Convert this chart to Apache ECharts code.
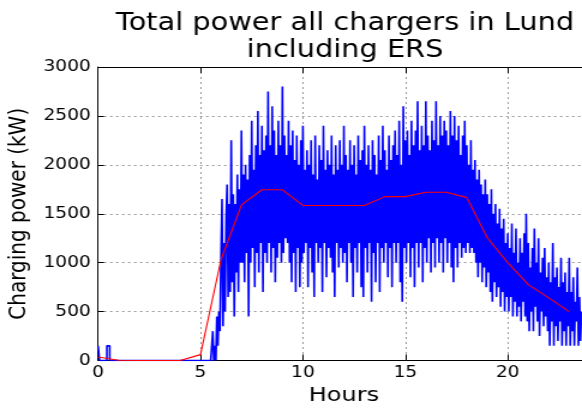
<!DOCTYPE html>
<html><head><meta charset="utf-8">
<script src="https://cdn.jsdelivr.net/npm/echarts@6/dist/echarts.min.js"></script>
<style>
html,body{margin:0;padding:0;overflow:hidden;background:#fff;width:582px;height:411px}
#chart{width:500px;height:411px;transform:scaleX(1.2);transform-origin:0 0;}
</style></head><body><div id="chart"></div>
<script>
// Title / axis texts
const titleText = 'Total power all chargers in Lund\nincluding ERS';
const xName = 'Hours';
const yName = 'Charging power (kW)';

// Early night part of the blue trace (hours, kW)
const earlyHours = [0, 0.07, 0.071, 0.43, 0.431, 0.57, 0.571, 5.5];
const earlyKW    = [150, 150, 0, 0, 150, 150, 0, 0];

// Main blue trace: samples every 3 minutes starting at 5.55 h
const sampleStart = 5.55;
const sampleStep = 0.05;
const blueKW = [
  0, 300, 0, 150, 0, 450, 150, 500, 300,
  1050, 1650, 350, 1200, 500, 1450, 1800, 650, 1600, 700, 2250, 800, 1700, 450, 1600, 900, 1900, 700, 1750, 1000,
  2350, 1000, 1900, 800, 2000, 1100, 1850, 450, 2100, 1000, 2450, 1150, 1950, 750, 2200, 1100, 2550, 900, 2100, 1200,
  2400, 700, 2150, 1100, 2300, 1000, 2750, 1200, 2200, 900, 2600, 1150, 2350, 800, 2100, 1050, 2450, 1200, 2200, 1000,
  2800, 1100, 2300, 1250, 2100, 1200, 2450, 1000, 2200, 800, 2350, 1100, 2050, 700, 2300, 1150, 2000, 750, 2250, 1000,
  2400, 1100, 1950, 1200, 2150, 750, 2000, 1150, 2250, 900, 1900, 650, 2300, 1200, 1850, 1000, 2200, 1150, 2050, 700,
  2400, 1200, 1950, 850, 2150, 1150, 2000, 1050, 2300, 900, 1900, 650, 2200, 1200, 1950, 950, 2250, 1150, 2000, 1000,
  2400, 1100, 2100, 800, 1950, 1200, 2250, 1000, 2000, 650, 2200, 1150, 1900, 900, 2300, 1200, 2050, 750, 2150, 650,
  2400, 1150, 2000, 900, 2200, 1200, 1950, 600, 2250, 1100, 2100, 800, 1900, 1200, 2300, 700, 2050, 1150, 2400, 1000,
  2150, 1200, 1950, 850, 2300, 1150, 2050, 750, 2200, 1200, 2350, 1000, 2100, 1200, 2450, 800, 2000, 600, 2600, 1150,
  2250, 1000, 2350, 1200, 2100, 850, 2450, 1150, 2200, 750, 2350, 1200, 2650, 950, 2150, 1200, 2400, 800, 2200, 1150,
  2650, 1000, 2300, 1250, 2150, 900, 2450, 1200, 2250, 950, 2650, 1250, 2200, 1000, 2500, 1200, 2300, 900, 2450, 1250,
  2350, 1000, 2200, 1200, 2550, 950, 2300, 800, 2500, 1150, 2250, 950, 2400, 1200, 2100, 1050, 2300, 1150, 2450, 1100,
  2200, 1200, 2000, 1100, 2250, 1150, 1950, 1100, 2050, 1000, 1850, 850, 1950, 1000, 1800, 800, 1700, 950, 1850, 750,
  1700, 900, 1600, 700, 1750, 600, 1500, 800, 1600, 650, 1400, 750, 1550, 550, 1350, 700, 1450, 500, 1200, 650,
  1300, 500, 1150, 650, 1400, 450, 1100, 600, 1350, 450, 1000, 550, 1250, 400, 1100, 600, 1300, 450, 1500, 400,
  1200, 300, 950, 500, 1150, 300, 1350, 550, 1000, 400, 1250, 250, 900, 500, 1050, 350, 1150, 450, 850, 300,
  1000, 150, 800, 400, 1200, 150, 850, 350, 950, 200, 750, 400, 1050, 150, 800, 300, 900, 150, 700, 350,
  1050, 150, 700, 300, 850, 150, 600, 400, 950, 150, 650, 200, 500
];

// Hourly average (red)
const redHours = [0,1,2,3,4,5,6,7,8,9,10,11,12,13,14,15,16,17,18,19,20,21,22,23];
const redKW = [35, 3, 0, 0, 0, 60, 1030, 1590, 1745, 1745, 1585, 1585, 1585, 1585, 1675, 1675, 1720, 1720, 1665, 1255, 1000, 775, 640, 500];

// Axis ticks
const xTickStep = 5;
const yTickStep = 500;
const xMax = 24;
const yMax = 3000;

const blueData = earlyHours.map((h, i) => [h, earlyKW[i]])
  .concat(blueKW.map((v, i) => [+(sampleStart + i * sampleStep).toFixed(3), v]));
const redData = redHours.map((h, i) => [h, redKW[i]]);

const font = 'DejaVu Sans';
const chart = echarts.init(document.getElementById('chart'), null, {renderer: 'canvas'});
const gridLine = {show: true, lineStyle: {color: '#9a9a9a', type: [2, 3], width: 1}};
chart.setOption({
  animation: false,
  backgroundColor: '#fff',
  title: {
    text: titleText, left: 287.5, top: 9.6, padding: 0, textAlign: 'center',
    textStyle: {fontFamily: font, fontSize: 24, fontWeight: 'normal', color: '#000', lineHeight: 27.5}
  },
  grid: {left: 81.7, right: 8.6, top: 67, bottom: 50.5, containLabel: false, outerBoundsMode: 'none'},
  xAxis: [{
    type: 'value', min: 0, max: xMax, interval: xTickStep,
    name: xName, nameLocation: 'middle', nameGap: 25,
    nameTextStyle: {fontFamily: font, fontSize: 20, color: '#000'},
    axisLine: {show: true, onZero: false, lineStyle: {color: '#000', width: 1}},
    axisTick: {show: true, inside: true, length: 6, lineStyle: {color: '#000'}},
    axisLabel: {fontFamily: font, fontSize: 15.5, color: '#000', margin: 4, showMaxLabel: false,
      formatter: v => String(v)},
    splitLine: gridLine
  }, {
    type: 'value', position: 'top', min: 0, max: xMax, interval: xTickStep,
    axisLine: {show: true, onZero: false, lineStyle: {color: '#000', width: 1}},
    axisTick: {show: true, inside: true, length: 6, lineStyle: {color: '#000'}},
    axisLabel: {show: false}, splitLine: {show: false}
  }],
  yAxis: {
    type: 'value', min: 0, max: yMax, interval: yTickStep,
    name: yName, nameLocation: 'middle', nameGap: 52, nameRotate: 90,
    nameTextStyle: {fontFamily: font, fontSize: 20, color: '#000'},
    axisLine: {show: true, onZero: false, lineStyle: {color: '#000', width: 1}},
    axisTick: {show: true, inside: true, length: 5, lineStyle: {color: '#000'}},
    axisLabel: {fontFamily: font, fontSize: 15.5, color: '#000', margin: 6, formatter: v => String(v)},
    splitLine: gridLine
  },
  series: [{
    type: 'line', data: blueData, showSymbol: false, symbol: 'none',
    lineStyle: {color: '#0000ff', width: 1.6}, z: 2
  }, {
    type: 'line', data: redData, showSymbol: false, symbol: 'none',
    lineStyle: {color: '#ff0000', width: 1.1}, z: 3
  }]
});
</script></body></html>
